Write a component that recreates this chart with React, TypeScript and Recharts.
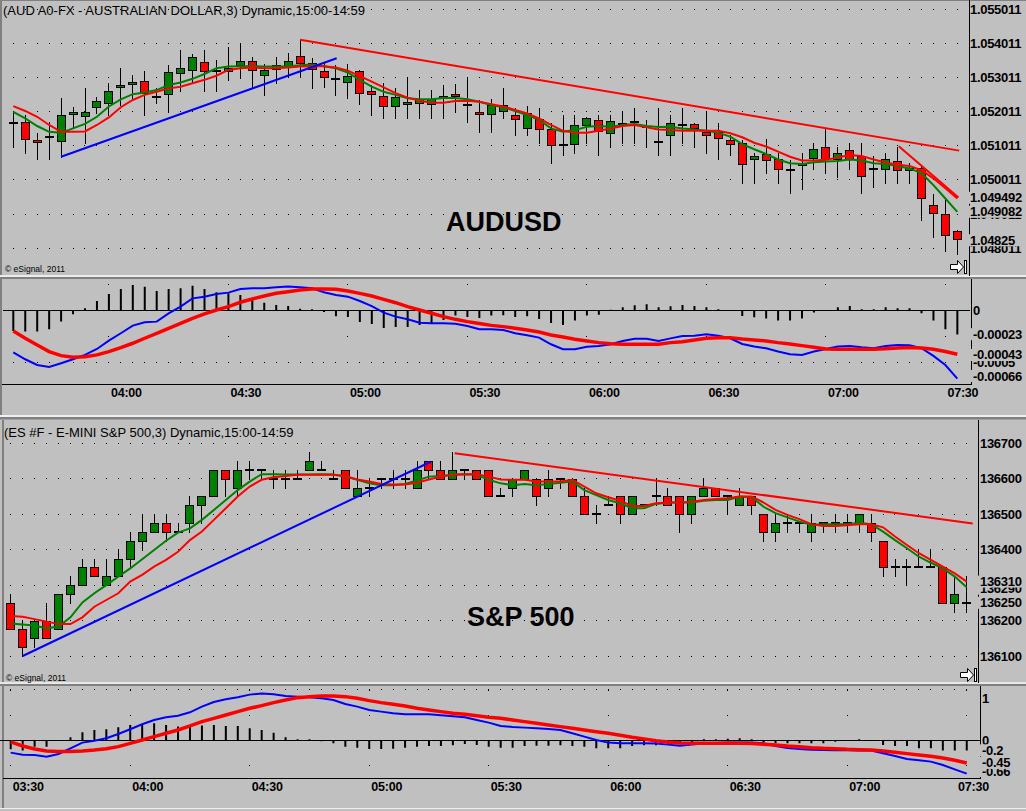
import React from 'react';
import { ComposedChart, Bar, Line, XAxis, YAxis, CartesianGrid, ReferenceLine } from 'recharts';

const BG = '#c0c0c0';
const SANS = '"Liberation Sans", Arial, Helvetica, sans-serif';
const GREEN = '#008000';
const RED = '#ff0000';
const BLUE = '#0000ff';

// ---------------- AUDUSD (3-min bars, 03:36 .. 07:33) ----------------
const AUD_OPEN = [
  1.05169, 1.05170, 1.05117, 1.05126, 1.05114, 1.05193, 1.05187, 1.05214, 1.05225, 1.05272,
  1.05282, 1.05290, 1.05245, 1.05252, 1.05313, 1.05322, 1.05345, 1.05319, 1.05320, 1.05336,
  1.05350, 1.05307, 1.05325, 1.05335, 1.05365, 1.05342, 1.05320, 1.05297, 1.05287, 1.05319,
  1.05261, 1.05248, 1.05217, 1.05222, 1.05226, 1.05223, 1.05242, 1.05254, 1.05219, 1.05199,
  1.05194, 1.05203, 1.05191, 1.05153, 1.05180, 1.05150, 1.05102, 1.05105, 1.05161, 1.05176,
  1.05138, 1.05164, 1.05171, 1.05155, 1.05113, 1.05132, 1.05161, 1.05166, 1.05140, 1.05140,
  1.05117, 1.05108, 1.05062, 1.05078, 1.05063, 1.05031, 1.05045, 1.05064, 1.05099, 1.05062,
  1.05089, 1.05071, 1.05034, 1.05034, 1.05057, 1.05030, 1.05037, 1.04929, 1.04901, 1.04852,
];
const AUD_HIGH = [
  1.05201, 1.05191, 1.05138, 1.05172, 1.05240, 1.05214, 1.05269, 1.05245, 1.05284, 1.05330,
  1.05308, 1.05320, 1.05269, 1.05337, 1.05381, 1.05369, 1.05381, 1.05352, 1.05391, 1.05401,
  1.05362, 1.05340, 1.05362, 1.05372, 1.05411, 1.05357, 1.05347, 1.05337, 1.05340, 1.05323,
  1.05279, 1.05284, 1.05269, 1.05301, 1.05264, 1.05264, 1.05279, 1.05281, 1.05301, 1.05235,
  1.05239, 1.05269, 1.05211, 1.05218, 1.05211, 1.05169, 1.05191, 1.05191, 1.05186, 1.05191,
  1.05191, 1.05203, 1.05211, 1.05177, 1.05211, 1.05191, 1.05211, 1.05169, 1.05203, 1.05169,
  1.05133, 1.05118, 1.05079, 1.05120, 1.05079, 1.05060, 1.05081, 1.05110, 1.05149, 1.05099,
  1.05108, 1.05108, 1.05071, 1.05079, 1.05099, 1.05050, 1.05045, 1.04959, 1.04947, 1.04855,
];
const AUD_LOW = [
  1.05099, 1.05081, 1.05062, 1.05062, 1.05069, 1.05152, 1.05110, 1.05196, 1.05191, 1.05220,
  1.05235, 1.05191, 1.05225, 1.05201, 1.05262, 1.05289, 1.05262, 1.05262, 1.05294, 1.05298,
  1.05272, 1.05250, 1.05284, 1.05303, 1.05301, 1.05271, 1.05272, 1.05250, 1.05242, 1.05222,
  1.05191, 1.05181, 1.05181, 1.05181, 1.05181, 1.05181, 1.05181, 1.05201, 1.05172, 1.05142,
  1.05142, 1.05181, 1.05133, 1.05133, 1.05110, 1.05052, 1.05073, 1.05081, 1.05110, 1.05073,
  1.05099, 1.05110, 1.05110, 1.05099, 1.05073, 1.05073, 1.05110, 1.05099, 1.05081, 1.05062,
  1.05073, 1.04991, 1.04991, 1.05023, 1.04991, 1.04962, 1.04974, 1.05032, 1.05023, 1.05011,
  1.05032, 1.04962, 1.04981, 1.04991, 1.04991, 1.04991, 1.04884, 1.04833, 1.04794, 1.04785,
];
const AUD_CLOSE = [
  1.05169, 1.05120, 1.05111, 1.05126, 1.05190, 1.05199, 1.05199, 1.05231, 1.05262, 1.05278,
  1.05288, 1.05255, 1.05245, 1.05316, 1.05330, 1.05360, 1.05320, 1.05319, 1.05330, 1.05348,
  1.05323, 1.05323, 1.05336, 1.05350, 1.05342, 1.05326, 1.05301, 1.05297, 1.05304, 1.05255,
  1.05252, 1.05218, 1.05245, 1.05228, 1.05239, 1.05237, 1.05248, 1.05246, 1.05219, 1.05194,
  1.05219, 1.05219, 1.05179, 1.05196, 1.05149, 1.05102, 1.05102, 1.05161, 1.05181, 1.05143,
  1.05175, 1.05169, 1.05171, 1.05155, 1.05113, 1.05169, 1.05161, 1.05153, 1.05132, 1.05123,
  1.05105, 1.05048, 1.05071, 1.05059, 1.05033, 1.05031, 1.05052, 1.05093, 1.05062, 1.05079,
  1.05062, 1.05013, 1.05034, 1.05062, 1.05030, 1.05035, 1.04948, 1.04904, 1.04840, 1.04828,
];
const AUD_MA_FAST = [
  1.05200, 1.05181, 1.05159, 1.05142, 1.05139, 1.05152, 1.05165, 1.05186, 1.05216, 1.05237,
  1.05252, 1.05257, 1.05264, 1.05279, 1.05286, 1.05297, 1.05311, 1.05328, 1.05333, 1.05334,
  1.05334, 1.05333, 1.05333, 1.05334, 1.05337, 1.05339, 1.05334, 1.05328, 1.05315, 1.05294,
  1.05274, 1.05259, 1.05250, 1.05240, 1.05237, 1.05237, 1.05241, 1.05241, 1.05237, 1.05230,
  1.05220, 1.05214, 1.05203, 1.05191, 1.05177, 1.05152, 1.05142, 1.05147, 1.05157, 1.05159,
  1.05157, 1.05162, 1.05165, 1.05159, 1.05156, 1.05157, 1.05152, 1.05149, 1.05145, 1.05139,
  1.05128, 1.05106, 1.05091, 1.05077, 1.05061, 1.05050, 1.05048, 1.05053, 1.05055, 1.05057,
  1.05061, 1.05058, 1.05050, 1.05048, 1.05042, 1.05035, 1.05021, 1.04986, 1.04947, 1.04908,
];
const AUD_MA_SLOW = [
  1.05217, 1.05203, 1.05186, 1.05162, 1.05142, 1.05142, 1.05143, 1.05162, 1.05184, 1.05214,
  1.05235, 1.05250, 1.05259, 1.05269, 1.05274, 1.05284, 1.05294, 1.05306, 1.05323, 1.05328,
  1.05330, 1.05328, 1.05328, 1.05330, 1.05333, 1.05334, 1.05334, 1.05330, 1.05321, 1.05305,
  1.05289, 1.05272, 1.05255, 1.05242, 1.05233, 1.05227, 1.05227, 1.05232, 1.05233, 1.05230,
  1.05223, 1.05216, 1.05206, 1.05196, 1.05181, 1.05162, 1.05145, 1.05139, 1.05139, 1.05145,
  1.05152, 1.05159, 1.05162, 1.05155, 1.05149, 1.05147, 1.05145, 1.05145, 1.05145, 1.05145,
  1.05138, 1.05126, 1.05110, 1.05099, 1.05084, 1.05069, 1.05058, 1.05058, 1.05060, 1.05067,
  1.05074, 1.05071, 1.05061, 1.05052, 1.05046, 1.05042, 1.05030, 1.05006, 1.04977, 1.04947,
];
const AUD_HIST = [
  -0.000199, -0.000205, -0.000205, -0.000183, -0.000109, -0.000039, 0.000019, 0.000089, 0.000157, 0.000205,
  0.000243, 0.000227, 0.000186, 0.000205, 0.000211, 0.000237, 0.000205, 0.000173, 0.000163, 0.000147,
  0.000115, 0.000073, 0.000051, 0.000041, 0.000016, 0.000009, -0.000016, -0.000058, -0.000064, -0.000112,
  -0.000131, -0.00017, -0.00016, -0.00016, -0.000141, -0.000122, -0.000093, -0.000051, -0.000064, -0.000074,
  -0.000051, -0.000048, -0.000064, -0.000058, -0.000083, -0.000122, -0.000141, -0.000099, -0.000051, -0.000042,
  0.000006, 0.000029, 0.000048, 0.000058, 0.000029, 0.000038, 0.000051, 0.000042, 0.000029, 0.00001,
  0, -0.000054, -0.000067, -0.00008, -0.000099, -0.000099, -0.00008, -0.000022, 0.000001, 0.000029,
  0.000042, 0.00001, 0.00001, 0.000029, 0.000019, 0.000019, -0.000029, -0.000099, -0.000183, -0.000234,
];
const AUD_MACD = [
  -0.000404, -0.000471, -0.000526, -0.000545, -0.00051, -0.000471, -0.000429, -0.000372, -0.000292, -0.000221,
  -0.000147, -0.000115, -0.000109, -0.000029, 0.000035, 0.000115, 0.000131, 0.000157, 0.00017, 0.000205,
  0.000212, 0.000212, 0.000221, 0.000228, 0.000221, 0.000212, 0.000173, 0.000147, 0.000131, 0.000089,
  0.000041, -0.000023, -0.000061, -0.000087, -0.000119, -0.000125, -0.000125, -0.000129, -0.000151, -0.000183,
  -0.000183, -0.000189, -0.000221, -0.000241, -0.000263, -0.000327, -0.000375, -0.000375, -0.00035, -0.000343,
  -0.000327, -0.000295, -0.000273, -0.000273, -0.000295, -0.00027, -0.000247, -0.000244, -0.000231, -0.000244,
  -0.000269, -0.000324, -0.000349, -0.000365, -0.000397, -0.000423, -0.000429, -0.000397, -0.000372, -0.000349,
  -0.000343, -0.000356, -0.000365, -0.000343, -0.000333, -0.000337, -0.000365, -0.000439, -0.000526, -0.000657,
];
const AUD_SIGNAL = [
  -0.000199, -0.000269, -0.000333, -0.000397, -0.000436, -0.000452, -0.000446, -0.000429, -0.000397, -0.000359,
  -0.000317, -0.000269, -0.000221, -0.000173, -0.000125, -0.000077, -0.000035, 0.000003, 0.000035, 0.000077,
  0.000109, 0.000138, 0.000163, 0.000179, 0.000196, 0.000205, 0.000205, 0.000202, 0.000186, 0.000163,
  0.000138, 0.000105, 0.000073, 0.000035, 0.000003, -0.000029, -0.000061, -0.000087, -0.000109, -0.000128,
  -0.000145, -0.000157, -0.000173, -0.000189, -0.000209, -0.000237, -0.000257, -0.000279, -0.000295, -0.000311,
  -0.000321, -0.000327, -0.000327, -0.000327, -0.000327, -0.000311, -0.000302, -0.000285, -0.000269, -0.000263,
  -0.000263, -0.000276, -0.000285, -0.000295, -0.000311, -0.000324, -0.00034, -0.000356, -0.000372, -0.000375,
  -0.000375, -0.000375, -0.000375, -0.000369, -0.000362, -0.000359, -0.000362, -0.000375, -0.000397, -0.000423,
];
const AUD_PRICE_GRID = [1.055011, 1.054011, 1.053011, 1.052011, 1.051011, 1.050011, 1.049011, 1.048011];
const AUD_PRICE_MARKERS = [1.049492, 1.049082, 1.04825];
const AUD_MACD_TICKS = [0, -0.0005];
const AUD_MACD_ROWS = [-0.0005];
const AUD_MACD_MARKERS = [-0.00066, -0.00043, -0.00023];
const AUD_TIME_TICKS = ['04:00', '04:30', '05:00', '05:30', '06:00', '06:30', '07:00', '07:30'];
const AUD_TRENDS = [
  { from: [4, 1.05069], to: [27.06, 1.05357], color: BLUE },
  { from: [24, 1.05411], to: [79.16, 1.05087], color: RED },
  { from: [74.1, 1.051], to: [79.1, 1.0495], color: RED },
];

// ---------------- E-MINI S&P 500 (3-min bars, 03:30 .. 07:30) ----------------
const ES_OPEN = [
  136250, 136175, 136150, 136200, 136175, 136275, 136300, 136350, 136300, 136325,
  136375, 136425, 136450, 136475, 136450, 136475, 136525, 136550, 136625, 136575,
  136625, 136625, 136600, 136600, 136600, 136625, 136625, 136600, 136625, 136550,
  136575, 136600, 136600, 136600, 136575, 136650, 136625, 136600, 136625, 136625,
  136625, 136550, 136575, 136600, 136600, 136575, 136600, 136600, 136550, 136500,
  136525, 136550, 136500, 136525, 136550, 136550, 136550, 136500, 136550, 136575,
  136550, 136525, 136550, 136500, 136450, 136475, 136475, 136450, 136475, 136475,
  136475, 136475, 136475, 136425, 136350, 136350, 136350, 136350, 136350, 136250, 136250,
];
const ES_HIGH = [
  136275, 136200, 136200, 136250, 136275, 136325, 136375, 136375, 136375, 136400,
  136450, 136500, 136500, 136500, 136475, 136550, 136550, 136625, 136625, 136650,
  136650, 136625, 136625, 136625, 136625, 136675, 136650, 136625, 136625, 136625,
  136600, 136600, 136625, 136625, 136650, 136650, 136650, 136675, 136625, 136625,
  136625, 136575, 136600, 136625, 136600, 136625, 136600, 136600, 136575, 136525,
  136550, 136550, 136550, 136525, 136600, 136575, 136550, 136550, 136600, 136575,
  136550, 136575, 136550, 136500, 136500, 136500, 136475, 136500, 136475, 136500,
  136500, 136500, 136500, 136425, 136375, 136375, 136400, 136400, 136350, 136325, 136325,
];
const ES_LOW = [
  136175, 136100, 136125, 136150, 136175, 136250, 136300, 136325, 136300, 136325,
  136350, 136400, 136450, 136425, 136450, 136450, 136475, 136550, 136550, 136550,
  136600, 136600, 136575, 136575, 136600, 136625, 136625, 136600, 136575, 136550,
  136550, 136575, 136575, 136575, 136575, 136600, 136600, 136600, 136600, 136600,
  136550, 136550, 136550, 136600, 136525, 136550, 136575, 136550, 136500, 136475,
  136525, 136475, 136500, 136525, 136525, 136525, 136450, 136475, 136550, 136550,
  136500, 136525, 136500, 136425, 136425, 136450, 136450, 136425, 136450, 136450,
  136450, 136450, 136425, 136325, 136325, 136300, 136350, 136350, 136250, 136225, 136225,
];
const ES_CLOSE = [
  136175, 136125, 136200, 136150, 136275, 136300, 136350, 136325, 136325, 136375,
  136425, 136450, 136475, 136450, 136450, 136525, 136550, 136625, 136600, 136625,
  136625, 136625, 136600, 136600, 136600, 136650, 136625, 136600, 136575, 136575,
  136575, 136600, 136600, 136600, 136625, 136625, 136600, 136625, 136625, 136600,
  136550, 136550, 136600, 136625, 136550, 136600, 136600, 136550, 136500, 136500,
  136525, 136500, 136550, 136525, 136550, 136525, 136500, 136550, 136575, 136550,
  136550, 136550, 136525, 136450, 136475, 136475, 136475, 136475, 136475, 136475,
  136475, 136500, 136450, 136350, 136350, 136350, 136350, 136350, 136250, 136275, 136250,
];
const ES_MA_FAST = [
  136192, 136189, 136186, 136178, 136183, 136209, 136251, 136277, 136300, 136324,
  136347, 136373, 136399, 136425, 136448, 136460, 136484, 136512, 136540, 136568,
  136592, 136613, 136613, 136612, 136612, 136612, 136613, 136612, 136606, 136597,
  136587, 136582, 136582, 136585, 136595, 136606, 136608, 136611, 136613, 136611,
  136597, 136587, 136582, 136585, 136582, 136585, 136589, 136592, 136568, 136554,
  136540, 136531, 136517, 136517, 136529, 136533, 136533, 136533, 136538, 136540,
  136540, 136550, 136548, 136521, 136503, 136491, 136479, 136470, 136472, 136472,
  136472, 136476, 136472, 136451, 136427, 136404, 136380, 136363, 136347, 136324, 136294,
];
const ES_MA_SLOW = [
  136213, 136211, 136204, 136197, 136190, 136190, 136209, 136239, 136258, 136277,
  136310, 136329, 136352, 136371, 136394, 136427, 136451, 136484, 136517, 136550,
  136578, 136597, 136604, 136608, 136611, 136611, 136611, 136611, 136608, 136598,
  136592, 136585, 136584, 136584, 136589, 136598, 136606, 136611, 136613, 136613,
  136606, 136598, 136597, 136597, 136592, 136592, 136592, 136597, 136578, 136559,
  136548, 136538, 136523, 136523, 136531, 136533, 136533, 136535, 136540, 136543,
  136545, 136550, 136550, 136533, 136512, 136498, 136486, 136472, 136467, 136467,
  136469, 136472, 136472, 136463, 136437, 136413, 136390, 136371, 136352, 136333, 136310,
];
const ES_HIST = [
  -0.179, -0.205, -0.126, -0.126, -0.01, 0.06, 0.159, 0.205, 0.219, 0.258,
  0.305, 0.305, 0.338, 0.305, 0.272, 0.272, 0.292, 0.305, 0.285, 0.285,
  0.239, 0.205, 0.152, 0.06, 0.02, 0.02, -0.02, -0.06, -0.126, -0.146,
  -0.172, -0.172, -0.166, -0.146, -0.126, -0.113, -0.113, -0.099, -0.073, -0.093,
  -0.126, -0.146, -0.146, -0.113, -0.106, -0.106, -0.099, -0.113, -0.126, -0.159,
  -0.159, -0.159, -0.113, -0.099, -0.099, -0.073, -0.06, -0.033, 0.02, 0.02,
  0.033, 0.04, 0.02, -0.033, -0.06, -0.06, -0.06, -0.06, -0.06, -0.027,
  -0.007, 0.02, 0, -0.093, -0.113, -0.113, -0.159, -0.159, -0.205, -0.205, -0.205,
];
const ES_MACD = [
  -0.245, -0.285, -0.292, -0.325, -0.272, -0.159, -0.046, -0.007, 0.04, 0.126,
  0.219, 0.318, 0.404, 0.457, 0.49, 0.557, 0.669, 0.762, 0.815, 0.855,
  0.908, 0.928, 0.915, 0.881, 0.868, 0.855, 0.835, 0.802, 0.722, 0.669,
  0.603, 0.57, 0.537, 0.517, 0.517, 0.517, 0.497, 0.477, 0.457, 0.404,
  0.351, 0.285, 0.265, 0.252, 0.239, 0.225, 0.205, 0.139, 0.073, 0.007,
  -0.046, -0.06, -0.06, -0.06, -0.066, -0.086, -0.106, -0.086, -0.066, -0.053,
  -0.046, -0.046, -0.046, -0.06, -0.113, -0.152, -0.172, -0.186, -0.192, -0.199,
  -0.199, -0.205, -0.205, -0.258, -0.311, -0.371, -0.398, -0.424, -0.49, -0.577, -0.663,
];
const ES_SIGNAL = [
  -0.033, -0.113, -0.172, -0.212, -0.225, -0.225, -0.212, -0.192, -0.166, -0.126,
  -0.06, 0.007, 0.073, 0.139, 0.205, 0.285, 0.371, 0.437, 0.504, 0.57,
  0.636, 0.689, 0.749, 0.802, 0.848, 0.868, 0.881, 0.881, 0.868, 0.835,
  0.789, 0.749, 0.716, 0.683, 0.636, 0.603, 0.57, 0.537, 0.517, 0.49,
  0.457, 0.437, 0.404, 0.371, 0.338, 0.305, 0.272, 0.239, 0.205, 0.172,
  0.139, 0.099, 0.06, 0.027, -0.007, -0.033, -0.053, -0.06, -0.06, -0.06,
  -0.06, -0.06, -0.066, -0.08, -0.093, -0.113, -0.126, -0.146, -0.159, -0.166,
  -0.179, -0.186, -0.192, -0.212, -0.239, -0.265, -0.292, -0.318, -0.351, -0.398, -0.451,
];
const ES_PRICE_GRID = [136700, 136600, 136500, 136400, 136300, 136200, 136100];
const ES_PRICE_MARKERS = [136290, 136310, 136250];
const ES_MACD_TICKS = [1, 0];
const ES_MACD_ROWS = [1];
const ES_MACD_MARKERS = [-0.66, -0.2, -0.45];
const ES_TIME_TICKS = ['03:30', '04:00', '04:30', '05:00', '05:30', '06:00', '06:30', '07:00', '07:30'];
const ES_TRENDS = [
  { from: [1, 136100], to: [35.15, 136648], color: BLUE },
  { from: [37.15, 136672], to: [80.5, 136474], color: RED },
];

// ---------------- helpers ----------------
function makeTimes(h: number, m: number, n: number): string[] {
  const out: string[] = [];
  for (let k = 0; k < n; k++) {
    const t = h * 60 + m + 3 * k;
    out.push(String(Math.floor(t / 60)).padStart(2, '0') + ':' + String(t % 60).padStart(2, '0'));
  }
  return out;
}
const AUD_TIMES = makeTimes(3, 36, AUD_OPEN.length);
const ES_TIMES = makeTimes(3, 30, ES_OPEN.length);

function priceRows(times: string[], o: number[], h: number[], l: number[], c: number[], f: number[], s: number[]) {
  return times.map((t, i) => ({ i, t, range: [l[i], h[i]], o: o[i], h: h[i], l: l[i], c: c[i], fast: f[i], slow: s[i] }));
}
function macdRows(times: string[], hist: number[], macd: number[], sig: number[]) {
  return times.map((t, i) => ({ i, t, hist: hist[i], macd: macd[i], signal: sig[i] }));
}

const ROW_DASH = '0 5.475 1 5.475';

function Candle(props: any) {
  const { x, y, width, height, payload } = props;
  if (payload == null || x == null || y == null) return null;
  const cx = Math.round(x + (width || 0) / 2);
  const y1 = Math.min(y, y + (height || 0));
  const y2 = Math.max(y, y + (height || 0));
  const { o, h, l, c } = payload;
  const span = h - l;
  const toY = (v: number) => (span > 0 ? y1 + ((h - v) / span) * (y2 - y1) : y1);
  const yo = Math.round(toY(o));
  const yc = Math.round(toY(c));
  const wick = (
    <line x1={cx + 0.5} x2={cx + 0.5} y1={Math.round(y1)} y2={Math.round(y2) + 1} stroke="#000" strokeWidth={1} shapeRendering="crispEdges" />
  );
  if (o === c) {
    return (
      <g>
        {wick}
        <rect x={cx - 4} y={yo - 1} width={9} height={2} fill="#000" shapeRendering="crispEdges" />
      </g>
    );
  }
  const top = Math.min(yo, yc);
  const bot = Math.max(yo, yc);
  return (
    <g>
      {wick}
      <rect x={cx - 3.5} y={top + 0.5} width={8} height={Math.max(bot - top, 1)} fill={c > o ? GREEN : RED} stroke="#000" strokeWidth={1} shapeRendering="crispEdges" />
    </g>
  );
}

function yTick(x0: number, bg: boolean, minY?: number, maxY?: number) {
  return (p: any) => {
    let y = p.y;
    if (minY != null) y = Math.max(y, minY);
    if (maxY != null) y = Math.min(y, maxY);
    const label = String(p.payload.value);
    return (
      <g>
        {bg && <rect x={x0 - 2} y={y - 6} width={1030 - x0} height={12} fill={BG} />}
        <text x={x0} y={y} dominantBaseline="central" fontFamily={SANS} fontWeight="bold" fontSize={13} fill="#000" style={{ letterSpacing: '-0.3px' }}>
          {label}
        </text>
      </g>
    );
  };
}

function timeTick(times: string[], maxX: number) {
  return (p: any) => {
    const label = times[Math.round(p.payload.value)];
    const x = Math.min(p.x + 2, maxX);
    return (
      <text x={x} y={p.y + 1} dominantBaseline="central" fontFamily={SANS} fontWeight="bold" fontSize={12.5} fill="#000" style={{ letterSpacing: '-0.2px' }}>
        {label}
      </text>
    );
  };
}

type PriceProps = {
  top: number; height: number; mTop: number; mBottom: number; left: number; axisW: number;
  n: number; rows: any[]; domain: [number, number]; grid: number[]; markers: number[];
  labelX: number; vTicks: number[]; colDash: string; trends: { from: number[]; to: number[]; color: string }[];
};

function PricePanel(p: PriceProps) {
  return (
    <div style={{ position: 'absolute', left: 0, top: p.top }}>
      <ComposedChart width={1026} height={p.height} data={p.rows} margin={{ top: p.mTop, right: 0, bottom: p.mBottom, left: p.left }}>
        <XAxis type="number" dataKey="i" domain={[-0.5, p.n - 0.5]} allowDataOverflow ticks={p.vTicks} interval={0} height={0} tick={false} axisLine={false} tickLine={false} />
        <YAxis orientation="right" width={p.axisW} domain={p.domain} allowDataOverflow ticks={p.grid} interval={0} axisLine={false} tickLine={false} tick={yTick(p.labelX, false)} />
        <YAxis yAxisId="m" orientation="right" mirror domain={p.domain} allowDataOverflow ticks={p.markers} interval={0} axisLine={false} tickLine={false} tick={yTick(p.labelX, true)} />
        <CartesianGrid vertical={false} horizontalValues={p.grid} stroke="#000" strokeDasharray={ROW_DASH} shapeRendering="crispEdges" />
        <CartesianGrid horizontal={false} verticalValues={p.vTicks} stroke="#000" strokeDasharray={p.colDash} shapeRendering="crispEdges" />
        <Bar dataKey="range" barSize={9} shape={(sp: any) => <Candle {...sp} />} isAnimationActive={false} />
        <Line type="linear" dataKey="fast" stroke={GREEN} strokeWidth={2} dot={false} activeDot={false} isAnimationActive={false} />
        <Line type="linear" dataKey="slow" stroke={RED} strokeWidth={2} dot={false} activeDot={false} isAnimationActive={false} />
        {p.trends.map((t, k) => (
          <ReferenceLine key={k} segment={[{ x: t.from[0], y: t.from[1] }, { x: t.to[0], y: t.to[1] }]} stroke={t.color} strokeWidth={2} ifOverflow="visible" />
        ))}
      </ComposedChart>
    </div>
  );
}

type MacdProps = {
  top: number; height: number; left: number; axisW: number; n: number; rows: any[];
  domain: [number, number]; ticks: number[]; rowVals: number[]; markers: number[];
  labelX: number; vTicks: number[]; colDash: string; times: string[]; maxLabelX: number;
  zeroRight: number; tickMinY?: number; markerMaxY?: number;
};

function MacdPanel(p: MacdProps) {
  return (
    <div style={{ position: 'absolute', left: 0, top: p.top }}>
      <ComposedChart width={1026} height={p.height} data={p.rows} margin={{ top: 0, right: 0, bottom: 0, left: p.left }}>
        <XAxis type="number" dataKey="i" domain={[-0.5, p.n - 0.5]} allowDataOverflow ticks={p.vTicks} interval={0} height={20} axisLine={false} tickLine={false} tick={timeTick(p.times, p.maxLabelX)} />
        <YAxis orientation="right" width={p.axisW} domain={p.domain} allowDataOverflow ticks={p.ticks} interval={0} axisLine={false} tickLine={false} tick={yTick(p.labelX, false, p.tickMinY)} />
        <YAxis yAxisId="m" orientation="right" mirror domain={p.domain} allowDataOverflow ticks={p.markers} interval={0} axisLine={false} tickLine={false} tick={yTick(p.labelX, true, undefined, p.markerMaxY)} />
        <CartesianGrid vertical={false} horizontalValues={p.rowVals} stroke="#000" strokeDasharray={ROW_DASH} shapeRendering="crispEdges" />
        <CartesianGrid horizontal={false} verticalValues={p.vTicks} stroke="#000" strokeDasharray={p.colDash} shapeRendering="crispEdges" />
        <ReferenceLine segment={[{ x: -0.9, y: 0 }, { x: p.zeroRight, y: 0 }]} stroke="#000" strokeWidth={1} ifOverflow="visible" shapeRendering="crispEdges" />
        <Bar dataKey="hist" barSize={2} fill="#000" isAnimationActive={false} />
        <Line type="linear" dataKey="macd" stroke={BLUE} strokeWidth={2} dot={false} activeDot={false} isAnimationActive={false} />
        <Line type="linear" dataKey="signal" stroke={RED} strokeWidth={3.5} dot={false} activeDot={false} isAnimationActive={false} />
      </ComposedChart>
    </div>
  );
}

function EndIcon({ x, y }: { x: number; y: number }) {
  return (
    <g transform={`translate(${x},${y})`}>
      <polygon points="0.5,4.5 7.5,4.5 7.5,0.5 13.5,7 7.5,13.5 7.5,9.5 0.5,9.5" fill="#fff" stroke="#000" strokeWidth={1} />
      <rect x={14.5} y={0.5} width={2} height={13} fill="#fff" stroke="#000" strokeWidth={1} />
    </g>
  );
}

export default function App() {
  const audRows = priceRows(AUD_TIMES, AUD_OPEN, AUD_HIGH, AUD_LOW, AUD_CLOSE, AUD_MA_FAST, AUD_MA_SLOW);
  const audMacd = macdRows(AUD_TIMES, AUD_HIST, AUD_MACD, AUD_SIGNAL);
  const esRows = priceRows(ES_TIMES, ES_OPEN, ES_HIGH, ES_LOW, ES_CLOSE, ES_MA_FAST, ES_MA_SLOW);
  const esMacd = macdRows(ES_TIMES, ES_HIST, ES_MACD, ES_SIGNAL);
  const audTicks = AUD_TIME_TICKS.map((t) => AUD_TIMES.indexOf(t));
  const esTicks = ES_TIME_TICKS.map((t) => ES_TIMES.indexOf(t));

  return (
    <div style={{ position: 'absolute', left: 0, top: 0, width: 1026, height: 811, background: BG, overflow: 'hidden', fontFamily: SANS }}>
      <svg width={1026} height={811} style={{ position: 'absolute', left: 0, top: 0 }}>
        {/* frame: top section */}
        <rect x={0} y={0} width={1026} height={1} fill="#808080" />
        <rect x={0} y={0} width={2} height={415} fill="#808080" />
        <rect x={0} y={275} width={1026} height={2} fill="#ececec" />
        <rect x={0} y={277} width={1026} height={2} fill="#808080" />
        <rect x={969} y={0} width={1} height={276} fill="#000" />
        <rect x={971} y={279} width={1} height={106} fill="#000" />
        <rect x={2} y={384} width={970} height={1} fill="#000" />
        {/* separator between sections */}
        <rect x={0} y={415} width={1026} height={2} fill="#f0f0f0" />
        <rect x={0} y={417} width={1026} height={2} fill="#808080" />
        <rect x={0} y={419} width={1026} height={1} fill="#a0a0a0" />
        {/* frame: bottom section */}
        <rect x={2} y={420} width={2} height={388} fill="#808080" />
        <rect x={0} y={682} width={1026} height={2} fill="#e8e8e8" />
        <rect x={0} y={684} width={1026} height={2} fill="#808080" />
        <rect x={978} y={420} width={1} height={263} fill="#000" />
        <rect x={980} y={686} width={1} height={93} fill="#000" />
        <rect x={3} y={778} width={978} height={1} fill="#000" />
        <rect x={0} y={808} width={1026} height={1} fill="#f0f0f0" />

        {/* titles and captions */}
        <text x={3} y={15} fontFamily={SANS} fontSize={13} fill="#000">(AUD A0-FX - AUSTRALIAN DOLLAR,3) Dynamic,15:00-14:59</text>
        <text x={4} y={437} fontFamily={SANS} fontSize={13} fill="#000">(ES #F - E-MINI S&amp;P 500,3) Dynamic,15:00-14:59</text>
        <text x={446} y={231} fontFamily={SANS} fontSize={27} fontWeight="bold" fill="#000">AUDUSD</text>
        <text x={467} y={626} fontFamily={SANS} fontSize={27} fontWeight="bold" fill="#000">S&amp;P 500</text>
        <text x={5} y={272} fontFamily={SANS} fontSize={8.5} fill="#000">© eSignal, 2011</text>
        <text x={6} y={681} fontFamily={SANS} fontSize={8.5} fill="#000">© eSignal, 2011</text>
        <EndIcon x={950} y={260} />
        <EndIcon x={960} y={668} />
      </svg>

      <PricePanel
        top={0} height={276} mTop={2} mBottom={1} left={7.3} axisW={62.7}
        n={AUD_OPEN.length} rows={audRows} domain={[1.047233, 1.055216]}
        grid={AUD_PRICE_GRID} markers={AUD_PRICE_MARKERS} labelX={970}
        vTicks={audTicks} colDash="0 7.1 1 9" trends={AUD_TRENDS}
      />
      <MacdPanel
        top={279} height={125} left={7.3} axisW={62.7} n={AUD_OPEN.length} rows={audMacd}
        domain={[-0.000709, 0.000301]} ticks={AUD_MACD_TICKS} rowVals={AUD_MACD_ROWS} markers={AUD_MACD_MARKERS}
        labelX={973} vTicks={audTicks} colDash="0 5.3 1 19.7" times={AUD_TIMES} maxLabelX={950}
        zeroRight={80.1} markerMaxY={97}
      />
      <PricePanel
        top={420} height={263} mTop={1} mBottom={1} left={4.725} axisW={53.3}
        n={ES_OPEN.length} rows={esRows} domain={[136026.7, 136762.9]}
        grid={ES_PRICE_GRID} markers={ES_PRICE_MARKERS} labelX={980}
        vTicks={esTicks} colDash="0 4.6 1 12.125" trends={ES_TRENDS}
      />
      <MacdPanel
        top={686} height={112} left={4.725} axisW={53.3} n={ES_OPEN.length} rows={esMacd}
        domain={[-0.7495, 1.0795]} ticks={ES_MACD_TICKS} rowVals={ES_MACD_ROWS} markers={ES_MACD_MARKERS}
        labelX={982} vTicks={esTicks} colDash="0 4 1 20.15" times={ES_TIMES} maxLabelX={958}
        zeroRight={81.1} tickMinY={12} markerMaxY={85}
      />
    </div>
  );
}
